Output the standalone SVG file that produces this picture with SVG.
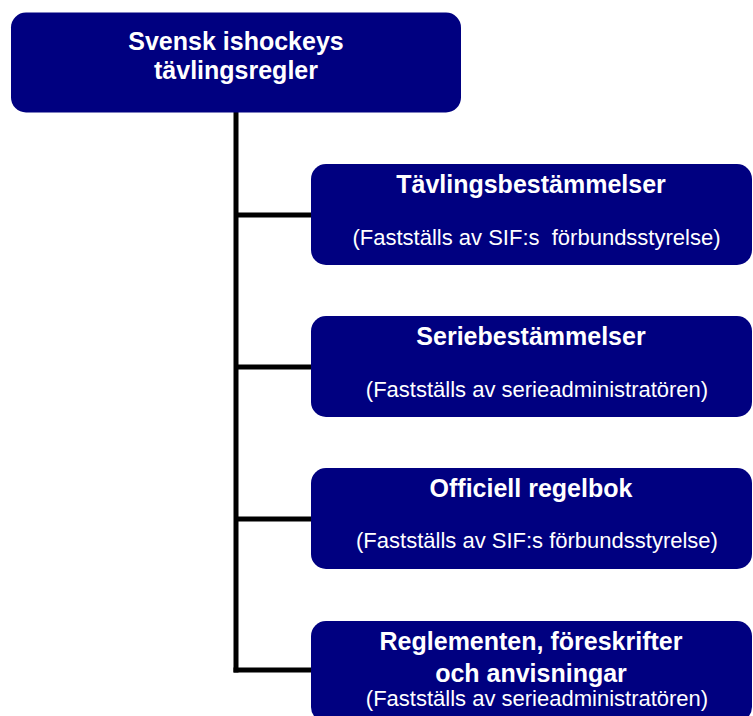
<svg xmlns="http://www.w3.org/2000/svg" width="753" height="716" viewBox="0 0 753 716">
<style>
.box{fill:#000080;}
.t{font-family:"Liberation Sans",Arial,sans-serif;font-weight:bold;font-size:25px;fill:#ffffff;text-anchor:middle;}
.s{font-family:"Liberation Sans",Arial,sans-serif;font-size:22px;fill:#ffffff;text-anchor:middle;}
.c{stroke:#000000;stroke-width:5;fill:none;}
</style>
<rect width="753" height="716" fill="#ffffff"/>
<g id="connectors">
<path class="c" d="M236,112 V672.5"/>
<path class="c" d="M236,215 H312"/>
<path class="c" d="M236,367 H312"/>
<path class="c" d="M236,519 H312"/>
<path class="c" d="M233.5,670 H312"/>
</g>
<g id="root">
<rect class="box" x="11" y="12.5" width="450" height="100" rx="15"/>
<text class="t" x="236" y="49.5">Svensk ishockeys</text>
<text class="t" x="236" y="79">tävlingsregler</text>
</g>
<g id="tavlingsbestammelser">
<rect class="box" x="311" y="164" width="441" height="101" rx="15"/>
<text class="t" x="531" y="193">Tävlingsbestämmelser</text>
<text class="s" x="536.5" y="245" xml:space="preserve">(Fastställs av SIF:s  förbundsstyrelse)</text>
</g>
<g id="seriebestammelser">
<rect class="box" x="311" y="316" width="441" height="101" rx="15"/>
<text class="t" x="531" y="345">Seriebestämmelser</text>
<text class="s" x="537" y="397">(Fastställs av serieadministratören)</text>
</g>
<g id="officiell-regelbok">
<rect class="box" x="311" y="468" width="441" height="101" rx="15"/>
<text class="t" x="531" y="497">Officiell regelbok</text>
<text class="s" x="537" y="548">(Fastställs av SIF:s förbundsstyrelse)</text>
</g>
<g id="reglementen">
<rect class="box" x="311" y="621" width="441" height="101" rx="15"/>
<text class="t" x="531" y="650">Reglementen, föreskrifter</text>
<text class="t" x="531" y="681.5">och anvisningar</text>
<text class="s" x="537" y="706">(Fastställs av serieadministratören)</text>
</g>
</svg>
